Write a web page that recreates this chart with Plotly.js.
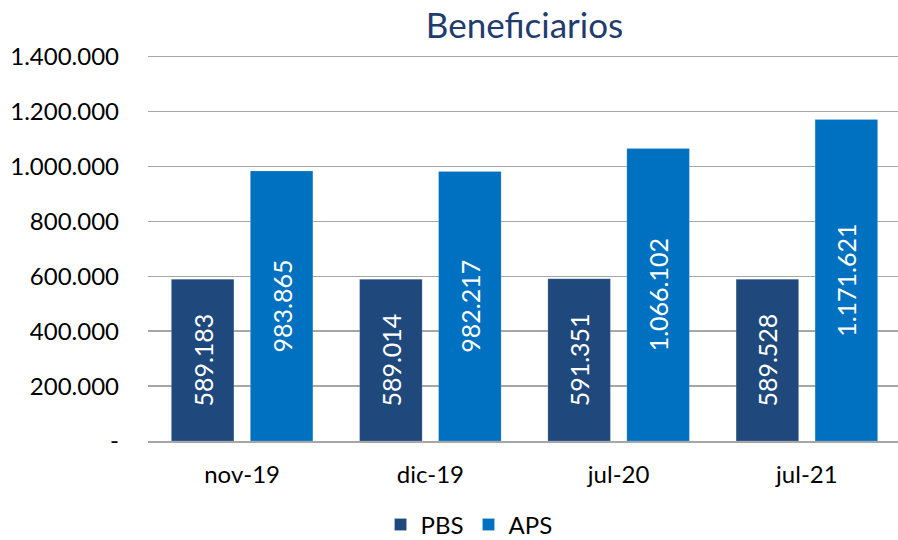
<!DOCTYPE html>
<html><head><meta charset="utf-8">
<script src="https://cdn.plot.ly/plotly-3.0.1.min.js"></script>
<style>html,body{margin:0;overflow:hidden}#c{width:902px;height:540px}</style>
</head><body><div id="c"></div>
<script>
const categories = ["nov-19","dic-19","jul-20","jul-21"];
const pbs = [589183, 589014, 591351, 589528];
const aps = [983865, 982217, 1066102, 1171621];
const tickVals = [0,200000,400000,600000,800000,1000000,1200000,1400000];
const tickText = ["-","200.000","400.000","600.000","800.000","1.000.000","1.200.000","1.400.000"];
const fnt = "Lato, 'Open Sans', sans-serif";
const mk = (name, y, color) => ({
  type:"bar", name, x:categories, y,
  marker:{color, line:{color:"rgba(255,255,255,0.35)",width:0.5}},
  text:y, texttemplate:"%{y:,d}", textposition:"inside", insidetextanchor:"middle",
  textangle:-90, textfont:{color:"#ffffff", size:25, family:fnt},
  hoverinfo:"none"
});
Plotly.newPlot("c",[mk("PBS",pbs,"#1F497D"), mk("APS",aps,"#0070C0")],{
  width:902,height:540,
  separators:",.",
  font:{family:fnt,size:24,color:"#000"},
  title:{text:"Beneficiarios",font:{size:35,color:"#1F3C6E",family:fnt},x:0.5,xref:"paper",xanchor:"center",
    yref:"container",y:0.953,yanchor:"middle",automargin:false},
  margin:{l:148,r:1,t:54,b:99.3},
  barmode:"group", bargap:0.161, bargroupgap:0.208,
  plot_bgcolor:"#fff", paper_bgcolor:"#fff",
  xaxis:{showgrid:false,showline:true,linecolor:"#a6a6a6",linewidth:1.5,ticks:"",tickfont:{size:24},automargin:false,ticklabelstandoff:12},
  yaxis:{range:[0,1410000],tickvals:tickVals,ticktext:tickText,showgrid:true,gridcolor:"#a6a6a6",gridwidth:1.5,
    zeroline:false,ticks:"",ticklen:0,tickfont:{size:24},automargin:false,ticklabelstandoff:28},
  showlegend:true,
  legend:{orientation:"h",xref:"container",x:0.52,xanchor:"center",yref:"container",y:0.028,yanchor:"middle",font:{size:24},itemwidth:30,traceorder:"normal",tracegroupgap:0}
},{displayModeBar:false,staticPlot:true});
</script></body></html>
